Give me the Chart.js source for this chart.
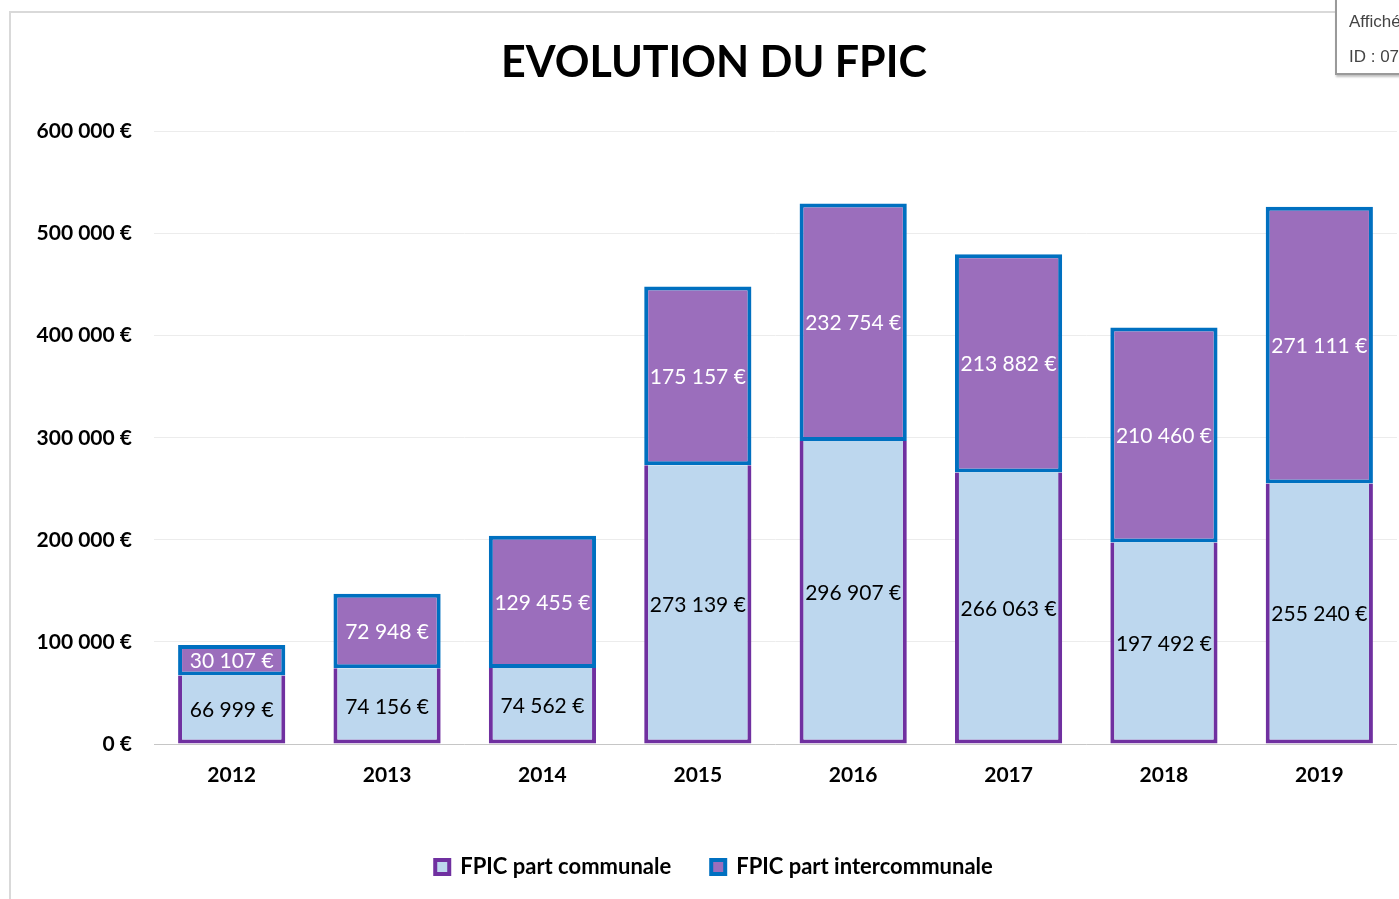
<!DOCTYPE html>
<html>
  <head>
    <meta charset="utf-8">
    <script src="https://cdn.jsdelivr.net/npm/chart.js@4.4.0/dist/chart.umd.min.js"></script>
    <style>
      html, body { margin: 0; padding: 0; background: #fff; overflow: hidden; }
      #frame { position: absolute; left: 9px; top: 11px; width: 1500px; height: 1000px; border: 2px solid #d9d9d9; box-sizing: border-box; }
      #chart { position: absolute; left: 0; top: 0; }
      #stamp { position: absolute; left: 1335px; top: -2px; width: 200px; height: 73px; background: #fff;
               border: 2px solid #9a9a9a; box-shadow: 1px 2px 2px rgba(0,0,0,0.25);
               font-family: "Liberation Sans", Arial, sans-serif; font-size: 17px; color: #444; }
      #stamp div { position: absolute; left: 12px; }
    </style>
    <script>
      // données du graphique
      var annees = ["2012", "2013", "2014", "2015", "2016", "2017", "2018", "2019"];
      var partCommunale = [66999, 74156, 74562, 273139, 296907, 266063, 197492, 255240];
      var partInterco = [30107, 72948, 129455, 175157, 232754, 213882, 210460, 271111];
      var yTicks = [0, 100000, 200000, 300000, 400000, 500000, 600000];

      function euros(n) {
        return String(n).replace(/\B(?=(\d{3})+(?!\d))/g, " ") + " €";
      }

      // étiquettes de valeur au centre de chaque segment
      var valueLabels = {
        id: "valueLabels",
        afterDatasetsDraw: function(chart) {
          var ctx = chart.ctx;
          chart.data.datasets.forEach(function(ds, i) {
            var meta = chart.getDatasetMeta(i);
            meta.data.forEach(function(bar, j) {
              var p = bar.getProps(["x", "y", "base"], true);
              ctx.save();
              ctx.font = "21px Lato";
              ctx.fillStyle = ds.labelColor;
              ctx.textAlign = "center";
              ctx.textBaseline = "middle";
              ctx.fillText(euros(ds.data[j]), p.x, (p.y + p.base) / 2 + 1);
              ctx.restore();
            });
          });
        }
      };

      window.onload = function() {
        var ctx = document.getElementById("chart");
        new Chart(ctx, {
          type: "bar",
          data: {
            labels: annees,
            datasets: [
              {
                label: "FPIC part communale",
                data: partCommunale,
                backgroundColor: "#bdd7ee",
                borderColor: "#7030a0",
                borderWidth: 4,
                borderSkipped: "top",
                labelColor: "#000"
              },
              {
                label: "FPIC part intercommunale",
                data: partInterco,
                backgroundColor: "#9b6ebc",
                borderColor: "#0070c0",
                borderWidth: 4,
                borderSkipped: false,
                labelColor: "#fff"
              }
            ]
          },
          options: {
            responsive: false,
            animation: false,
            devicePixelRatio: 1,
            layout: { padding: { left: 31, right: 31, top: 0, bottom: 11 } },
            datasets: { bar: { categoryPercentage: 1, barPercentage: 0.69 } },
            plugins: {
              tooltip: { enabled: false },
              title: {
                display: true,
                text: "EVOLUTION DU FPIC",
                color: "#000",
                font: { family: "Lato", size: 43, weight: "bold" },
                padding: { top: 37, bottom: 43 }
              },
              legend: {
                position: "bottom",
                labels: {
                  color: "#000",
                  font: { family: "Lato", size: 22, weight: "bold" },
                  boxWidth: 14,
                  boxHeight: 14,
                  padding: 40
                }
              }
            },
            scales: {
              x: {
                stacked: true,
                grid: { display: false },
                border: { display: false },
                ticks: {
                  color: "#000",
                  padding: 11,
                  font: { family: "Lato", size: 21, weight: "bold" }
                },
                afterFit: function(scale) { scale.height = 72; }
              },
              y: {
                stacked: true,
                min: 0,
                max: 600000,
                border: { display: false },
                grid: {
                  drawTicks: false,
                  lineWidth: 1,
                  color: function(c) { return c.tick && c.tick.value === 0 ? "#c6c6c6" : "#ececec"; }
                },
                afterBuildTicks: function(scale) {
                  scale.ticks = yTicks.map(function(v) { return { value: v }; });
                },
                ticks: {
                  color: "#000",
                  padding: 22,
                  font: { family: "Lato", size: 21, weight: "bold" },
                  callback: function(v) { return euros(v); }
                },
                afterFit: function(scale) { scale.width = 123; }
              }
            }
          },
          plugins: [valueLabels]
        });
      };
    </script>
  </head>
  <body>
    <div id="frame"></div>
    <canvas id="chart" width="1428" height="899"></canvas>
    <div id="stamp"><div style="top:12px">Affiché le</div><div style="top:47px">ID : 07</div></div>
  </body>
</html>
